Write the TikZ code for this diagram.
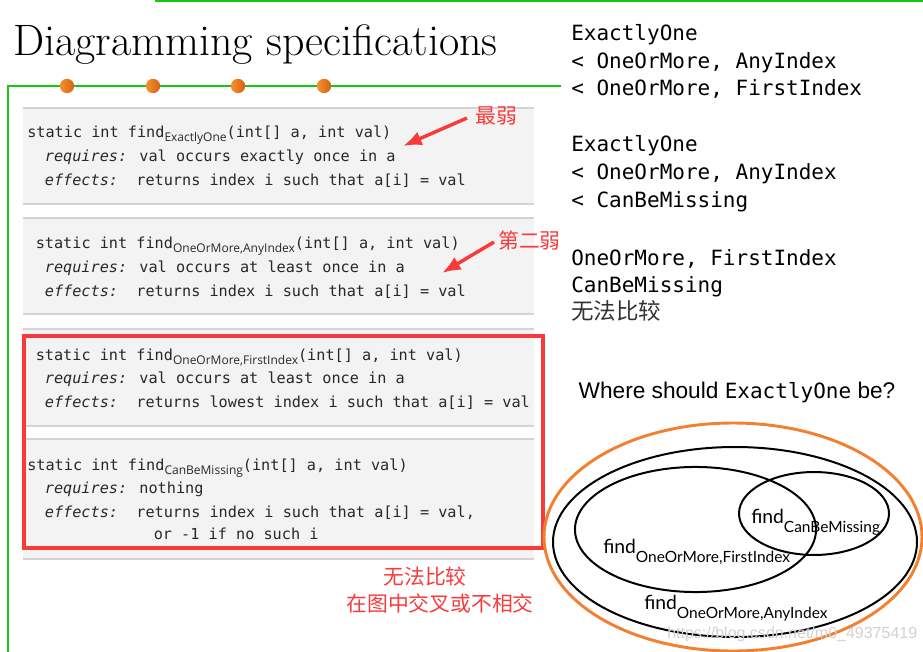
\documentclass[tikz,border=0pt]{standalone}
\usepackage{fontspec}
\newfontfamily\codefont{DejaVu Sans Mono}
\newfontfamily\subfont{Open Sans}
\newfontfamily\vennfont{Lato}
\newfontfamily\labelfont{Liberation Sans}
\newfontfamily\cjk{Noto Sans CJK SC}
\usetikzlibrary{arrows.meta, shapes.geometric}

\definecolor{slidegreen}{RGB}{20,200,20}
\definecolor{dotlight}{RGB}{246,145,45}
\definecolor{dotdark}{RGB}{214,96,20}
\definecolor{boxgray}{RGB}{243,243,243}
\definecolor{rulegray}{RGB}{212,212,212}
\definecolor{markred}{RGB}{248,58,58}
\definecolor{ringorange}{RGB}{243,128,48}
\definecolor{codetext}{RGB}{40,40,40}

% subscripts in the spec headers and in the Venn labels
\newcommand{\specsub}[1]{\raisebox{-3pt}{\subfont\fontsize{9}{9}\selectfont #1}}
\newcommand{\vsub}[1]{\raisebox{-7pt}{\fontsize{11.6}{12}\selectfont #1}}

\begin{document}
\begin{tikzpicture}[
  x=0.75pt, y=-0.75pt,
  >=Latex,
  % --- text styles ---
  code/.style={anchor=base west, inner sep=0pt, text=codetext,
    font=\codefont\fontsize{11.4}{13}\selectfont},
  order/.style={anchor=base west, inner sep=0pt,
    font=\codefont\fontsize{15.75}{18}\selectfont},
  note/.style={anchor=base west, inner sep=0pt, text=markred,
    font=\cjk\fontsize{15.6}{18}\selectfont},
  vennlabel/.style={anchor=base west, inner sep=0pt,
    font=\vennfont\fontsize{14.5}{16}\selectfont},
  % --- shape styles ---
  specset/.style={draw, ellipse, line width=1.5pt, inner sep=0pt},
  redarrow/.style={markred, line width=2.6pt,
    arrows={-Latex[length=14pt, width=11pt]}},
]
\useasboundingbox (0,0) rectangle (923,652);

% ══════════════════════════════════════════════
% SLIDE FRAME
% ══════════════════════════════════════════════

\draw[slidegreen, line width=1pt] (155,1) -- (923,1);
\draw[slidegreen, line width=1pt] (561,86) -- (8,86) -- (8,652);
\foreach \x in {67,153,238,324}
  \shade[left color=dotlight, right color=dotdark] (\x,86) circle (5.4pt);

\node[anchor=base west, inner sep=0pt, font=\fontsize{33}{38}\selectfont]
  (title) at (13,56) {Diagramming specifications};

% ══════════════════════════════════════════════
% SPEC BOXES
% ══════════════════════════════════════════════

\foreach \top/\bot in {108/204, 218/314, 329/426, 439/559} {
  \fill[boxgray] (23,\top) rectangle (534,\bot);
  \draw[rulegray, line width=1.3pt] (23,\top) -- (534,\top) (23,\bot) -- (534,\bot);
}

% ExactlyOne
\node[code] (ex1) at (27,138) {static int find\specsub{ExactlyOne}(int[] a, int val)};
\node[code] (ex2) at (44.6,162) {{\itshape requires:} val occurs exactly once in a};
\node[code] (ex3) at (44.6,186) {{\itshape effects:}\ \ returns index i such that a[i] = val};

% OneOrMore, AnyIndex
\node[code] (any1) at (35.5,248) {static int find\specsub{OneOrMore,AnyIndex}(int[] a, int val)};
\node[code] (any2) at (44.6,272) {{\itshape requires:} val occurs at least once in a};
\node[code] (any3) at (44.6,296) {{\itshape effects:}\ \ returns index i such that a[i] = val};

% OneOrMore, FirstIndex
\node[code] (first1) at (35.5,360) {static int find\specsub{OneOrMore,FirstIndex}(int[] a, int val)};
\node[code] (first2) at (44.6,383) {{\itshape requires:} val occurs at least once in a};
\node[code] (first3) at (44.6,407) {{\itshape effects:}\ \ returns lowest index i such that a[i] = val};

% CanBeMissing
\node[code] (miss1) at (27,470) {static int find\specsub{CanBeMissing}(int[] a, int val)};
\node[code] (miss2) at (44.6,493) {{\itshape requires:} nothing};
\node[code] (miss3) at (44.6,517) {{\itshape effects:}\ \ returns index i such that a[i] = val,};
\node[code] (miss4) at (153.5,539) {or -1 if no such i};

% incomparable pair
\draw[markred, line width=2.4pt] (24,336) rectangle (543,548);

% ══════════════════════════════════════════════
% RED NOTES
% ══════════════════════════════════════════════

\node[note] (weakest) at (475,124) {最弱};
\coordinate (weakest tail) at (467,118);
\coordinate (weakest tip) at (403,146);
\draw[redarrow] (weakest tail) -- (weakest tip);

\node[note] (second) at (498,248) {第二弱};
\coordinate (second tail) at (494,242);
\coordinate (second tip) at (442,273);
\draw[redarrow] (second tail) -- (second tip);

\node[note, anchor=base] (nocmp) at (425,584) {无法比较};
\node[note, anchor=base] (cross) at (440,611) {在图中交叉或不相交};

% ══════════════════════════════════════════════
% ORDERING (right)
% ══════════════════════════════════════════════

\node[order] (o1) at (571,41) {ExactlyOne};
\node[order] (o2) at (571,69) {< OneOrMore, AnyIndex};
\node[order] (o3) at (571,96) {< OneOrMore, FirstIndex};

\node[order] (o4) at (571,152) {ExactlyOne};
\node[order] (o5) at (571,180) {< OneOrMore, AnyIndex};
\node[order] (o6) at (571,208) {< CanBeMissing};

\node[order] (o7) at (571,265) {OneOrMore, FirstIndex};
\node[order] (o8) at (571,292) {CanBeMissing};
\node[anchor=base west, inner sep=0pt, text=black!80,
  font=\cjk\fontsize{16.9}{18}\selectfont] (o9) at (571,319) {无法比较};

% ══════════════════════════════════════════════
% VENN DIAGRAM
% ══════════════════════════════════════════════

\node[anchor=base, inner sep=0pt, font=\labelfont\fontsize{17}{20}\selectfont]
  (question) at (737,398)
  {Where should {\codefont\fontsize{15.75}{18}\selectfont ExactlyOne} be?};

\node[specset, draw=ringorange, line width=2.2pt,
  minimum width=283.5pt, minimum height=171pt] (outer) at (733,537) {};
\node[specset, minimum width=273pt, minimum height=142.5pt] (anyset) at (735,542) {};
\node[specset, minimum width=180.8pt, minimum height=93.8pt] (firstset) at (695.5,529.5) {};
\node[specset, minimum width=112.5pt, minimum height=62.2pt] (missset) at (814,513.5) {};

\node[vennlabel] (misslabel) at (751,523) {find\vsub{CanBeMissing}};
\node[vennlabel] (firstlabel) at (603,553) {find\vsub{OneOrMore,FirstIndex}};
\node[vennlabel] (anylabel) at (644,609) {find\vsub{OneOrMore,AnyIndex}};

\node[anchor=base west, inner sep=0pt, text=black!18,
  font=\labelfont\fontsize{12}{14}\selectfont] (mark) at (667,638)
  {https://blog.csdn.net/m0\_49375419};

\end{tikzpicture}
\end{document}
